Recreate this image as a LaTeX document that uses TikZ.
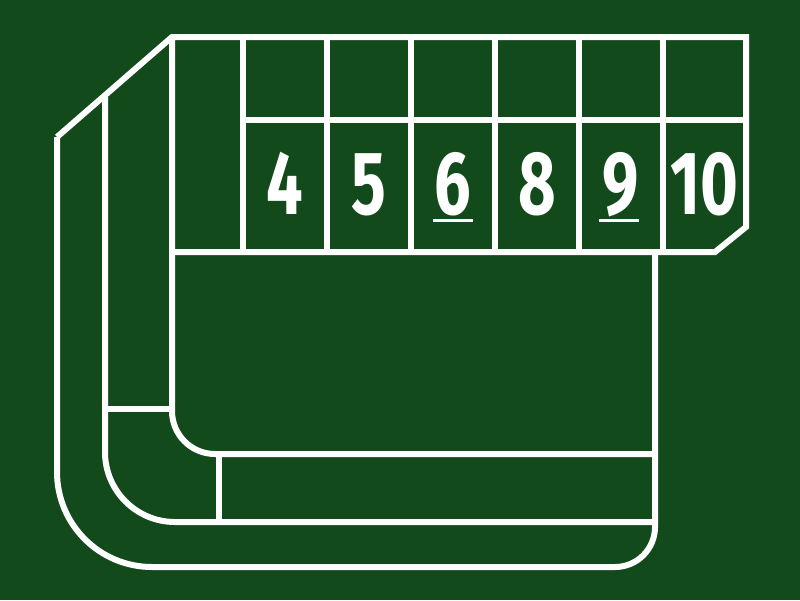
\documentclass[tikz,border=0pt]{standalone}
\usepackage{fontspec}
\setmainfont{Fira Sans}
\usepackage{graphicx}
\definecolor{felt}{RGB}{18,74,27}
\begin{document}
\begin{tikzpicture}[x=1pt,y=-1pt,
  rail/.style={draw=white, line width=6pt},
  num/.style={font=\fontsize{90}{90}\selectfont\bfseries, text=white, anchor=base, inner sep=0pt},
  uline/.style={draw=white, line width=3pt}]
\fill[felt] (0,0) rectangle (800,600);
\useasboundingbox (0,0) rectangle (800,600);
% outer top boundary with number row
\draw[rail] (57,137) -- (172,37) -- (746,37) -- (746,227) -- (715,252) -- (172,252);
% outer bottom boundary
\draw[rail] (655,252) [rounded corners=40pt] -- (655,567) [rounded corners=95pt] -- (57,567) [sharp corners] -- (57,137);
% middle rail
\draw[rail] (105,95) [rounded corners=70pt] -- (105,522) [sharp corners] -- (655,522);
% inner rail
\draw[rail] (172,37) [rounded corners=43pt] -- (172,454) [sharp corners] -- (655,454);
% short dividers
\draw[rail] (105,409) -- (172,409);
\draw[rail] (219,454) -- (219,522);
% number box grid
\draw[rail] (243,120) -- (746,120);
\foreach \x in {243,327,411,495,579,663}
  \draw[rail] (\x,37) -- (\x,252);
% numbers
\node[num] (n4) at (285,214) {\scalebox{0.72}[1]{4}};
\node[num] (n5) at (369,214) {\scalebox{0.72}[1]{5}};
\node[num] (n6) at (453,214) {\scalebox{0.72}[1]{6}};
\node[num] (n8) at (537,214) {\scalebox{0.72}[1]{8}};
\node[num] (n9) at (621,214) {\scalebox{0.72}[1]{9}};
\node[num] (n10) at (704,214) {\scalebox{0.72}[1]{10}};
\draw[uline] (433,220) -- (473,220);
\draw[uline] (599,220) -- (639,220);
\end{tikzpicture}
\end{document}
